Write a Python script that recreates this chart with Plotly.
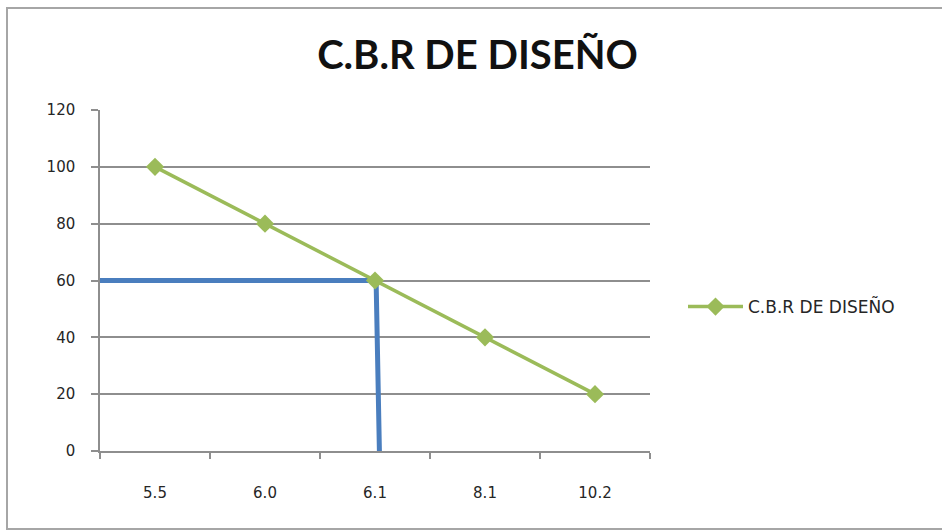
import plotly.graph_objects as go

# C.B.R values (x categories) and percentage of max density (y)
cbr_labels = ["5.5", "6.0", "6.1", "8.1", "10.2"]
density_pct = [100, 80, 60, 40, 20]
series_name = "C.B.R DE DISEÑO"

# Design reading: 60 % on the curve -> C.B.R 6.1
design_pct = 60
design_cbr = "6.1"

y_ticks = [0, 20, 40, 60, 80, 100, 120]

W, H = 942, 530
L, R, T, B = 100, 650, 110, 451  # plot area in pixels

x_pos = list(range(len(cbr_labels)))
x_design = cbr_labels.index(design_cbr)
x_left = -0.5

GREEN = "#9BBB59"
BLUE = "#4A7EBE"
GRID = "#8e8e8e"
TITLE_FONT = "Lato"
TEXT_FONT = "DejaVu Sans"
TEXT_COLOR = "#262626"

fig = go.Figure()

# reading guide: across from the y axis at the design percentage, then down
fig.add_trace(go.Scatter(
    x=[x_left, x_design + 0.01, x_design + 0.04],
    y=[design_pct, design_pct, 0],
    mode="lines",
    line=dict(color=BLUE, width=5),
    showlegend=False,
    hoverinfo="skip",
))

fig.add_trace(go.Scatter(
    x=x_pos,
    y=density_pct,
    mode="lines+markers",
    name=series_name,
    line=dict(color=GREEN, width=3.5),
    marker=dict(symbol="diamond", size=14, color=GREEN),
))

def px_x(px):
    return (px - L) / (R - L)

def px_y(py):
    return (B - py) / (B - T)

fig.update_layout(
    width=W,
    height=H,
    margin=dict(l=L, r=W - R, t=T, b=H - B, pad=0),
    paper_bgcolor="white",
    plot_bgcolor="white",
    font=dict(family=TEXT_FONT, size=15, color=TEXT_COLOR),
    title=dict(
        text="<b>C.B.R DE DISEÑO</b>",
        x=477.5 / W,
        xanchor="center",
        y=1 - 55 / H,
        yanchor="middle",
        font=dict(family=TITLE_FONT, size=40, color="#111111"),
    ),
    xaxis=dict(
        range=[-0.5, len(cbr_labels) - 0.5],
        tickmode="array",
        tickvals=x_pos,
        ticktext=cbr_labels,
        ticks="",
        showgrid=False,
        zeroline=False,
        showline=True,
        linecolor=GRID,
        linewidth=1.5,
        ticklabelstandoff=27,
        tickfont=dict(family=TEXT_FONT, size=15, color=TEXT_COLOR),
        minor=dict(
            tickmode="array",
            tickvals=[i - 0.5 for i in range(len(cbr_labels) + 1)],
            ticks="outside",
            ticklen=6,
            tickwidth=1.5,
            tickcolor=GRID,
            showgrid=False,
        ),
        fixedrange=True,
    ),
    yaxis=dict(
        range=[0, 120],
        tickmode="array",
        tickvals=y_ticks,
        ticks="outside",
        ticklen=7,
        tickwidth=1.5,
        tickcolor=GRID,
        showgrid=True,
        gridcolor=GRID,
        gridwidth=1.5,
        zeroline=False,
        showline=True,
        linecolor=GRID,
        linewidth=1.5,
        ticklabelstandoff=13,
        tickfont=dict(family=TEXT_FONT, size=15, color=TEXT_COLOR),
        fixedrange=True,
    ),
    legend=dict(
        x=px_x(683),
        y=px_y(307),
        xanchor="left",
        yanchor="middle",
        font=dict(family=TEXT_FONT, size=17, color=TEXT_COLOR),
        bgcolor="rgba(0,0,0,0)",
        itemwidth=55,
    ),
    showlegend=True,
    shapes=[
        dict(
            type="rect",
            xref="paper",
            yref="paper",
            x0=px_x(7),
            x1=px_x(950),
            y0=px_y(529),
            y1=px_y(8),
            line=dict(color="#a6a6a6", width=2),
            fillcolor="rgba(0,0,0,0)",
            layer="below",
        )
    ],
)

fig.write_html("out.html")
